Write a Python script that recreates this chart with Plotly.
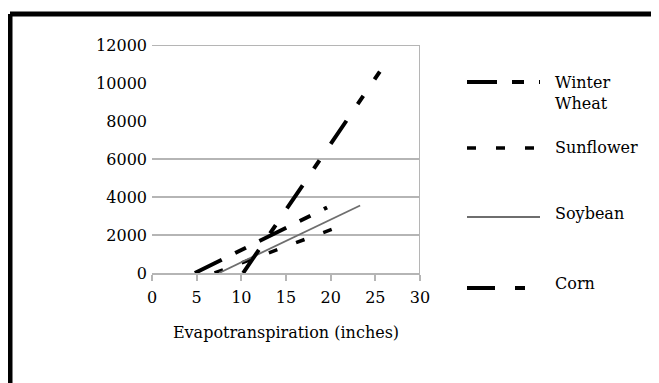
import plotly.graph_objects as go

# Crops and their fitted yield lines
crops = ["Winter Wheat", "Sunflower", "Soybean", "Corn"]
legend_text = ["Winter<br>Wheat", "Sunflower", "Soybean", "Corn"]

wheat_et = [4.8, 19.6]
wheat_yield = [0, 3450]

sunflower_et = [7.0, 21.0]
sunflower_yield = [0, 2450]

soybean_et = [7.5, 23.3]
soybean_yield = [0, 3550]

corn_et = [10.2, 25.5]
corn_yield = [0, 10600]

x_ticks = [0, 5, 10, 15, 20, 25, 30]
y_ticks = [0, 2000, 4000, 6000, 8000, 10000, 12000]
y_tick_text = ["0", "2000", "4000", "6000", "8000", "10000", "12000"]
grid_y = [2000, 4000, 6000, 12000]

# line styles per crop
styles = {
    "Winter Wheat": dict(color="black", width=4, dash="30px,15px,12px,15px"),
    "Sunflower": dict(color="black", width=3.5, dash="9px,20px"),
    "Soybean": dict(color="#6e6e6e", width=1.8, dash="solid"),
    "Corn": dict(color="black", width=4, dash="28px,20px,10px,20px"),
}

OFF = 8  # page body margin
W, H = 659 - OFF, 383 - OFF
L, R, T, B = 152 - OFF, 420 - OFF, 45 - OFF, 273 - OFF  # plot area in pixels


def px(x):
    return (x - OFF - L) / (R - L)


def py(y):
    return (B - (y - OFF)) / (B - T)


FONT = "DejaVu Serif"
FS = 16

fig = go.Figure()
series = [(wheat_et, wheat_yield), (sunflower_et, sunflower_yield),
          (soybean_et, soybean_yield), (corn_et, corn_yield)]
for name, (xs, ys) in zip(crops, series):
    fig.add_trace(go.Scatter(x=xs, y=ys, mode="lines", name=name,
                             line=styles[name], showlegend=False))

shapes = []
# gridlines and top / right frame of the plot
for g in grid_y:
    shapes.append(dict(type="line", xref="paper", yref="y", x0=0, x1=1, y0=g, y1=g,
                       line=dict(color="#b5b5b5", width=2), layer="below"))
shapes.append(dict(type="line", xref="x", yref="paper", x0=30, x1=30, y0=0, y1=1,
                   line=dict(color="#b5b5b5", width=2), layer="below"))

# thick outer frame (left and top edges)
shapes.append(dict(type="line", xref="paper", yref="paper", x0=px(10), x1=px(700),
                   y0=py(14), y1=py(14), line=dict(color="black", width=5)))
shapes.append(dict(type="line", xref="paper", yref="paper", x0=px(10), x1=px(10),
                   y0=py(14), y1=py(400), line=dict(color="black", width=5)))

# hand-drawn legend
legend_line_y = [82, 148, 217, 288]
legend_text_y = [93, 147, 213, 283]
annotations = []
for name, txt, ly, ty in zip(crops, legend_text, legend_line_y, legend_text_y):
    st = styles[name]
    shapes.append(dict(type="line", xref="paper", yref="paper", x0=px(467), x1=px(540),
                       y0=py(ly), y1=py(ly), line=st))
    annotations.append(dict(xref="paper", yref="paper", x=px(553), y=py(ty), text=txt,
                            showarrow=False, xanchor="left", yanchor="middle", align="left",
                            font=dict(family=FONT, size=FS, color="black")))

fig.update_layout(
    width=W, height=H,
    margin=dict(l=L, r=W - R, t=T, b=H - B),
    paper_bgcolor="white", plot_bgcolor="white",
    shapes=shapes, annotations=annotations,
    xaxis=dict(
        range=[0, 30], tickvals=x_ticks, showgrid=False, zeroline=False,
        showline=True, linecolor="#b5b5b5", linewidth=2,
        ticks="outside", ticklen=6, tickcolor="#b5b5b5", tickwidth=1.5,
        ticklabelstandoff=3,
        tickfont=dict(family=FONT, size=FS, color="black"),
        title=dict(text="Evapotranspiration (inches)", standoff=21,
                   font=dict(family=FONT, size=FS, color="black")),
    ),
    yaxis=dict(
        range=[0, 12000], tickvals=y_ticks, ticktext=y_tick_text,
        showgrid=False, zeroline=False,
        showline=False, ticks="", ticklabelstandoff=4,
        tickfont=dict(family=FONT, size=FS, color="black"),
    ),
)

fig.write_html("out.html")
